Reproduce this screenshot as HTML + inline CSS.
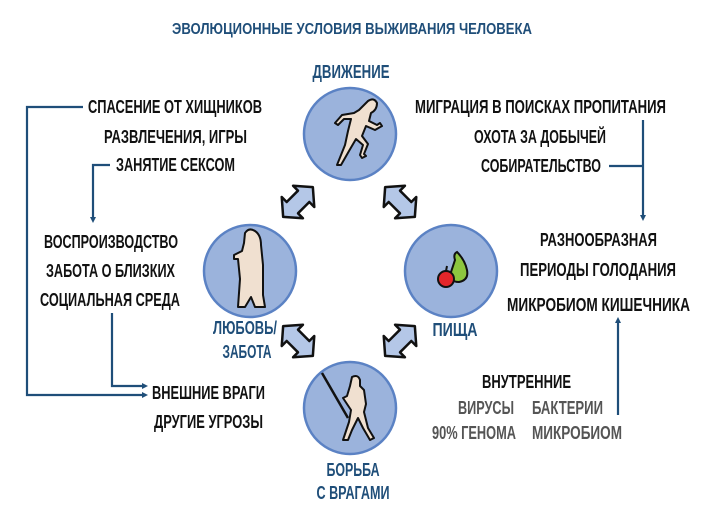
<!DOCTYPE html>
<html><head><meta charset="utf-8"><style>
html,body{margin:0;padding:0;background:#fff;}
svg{display:block;}
text{font-family:"Liberation Sans Narrow","Liberation Sans",sans-serif;font-weight:bold;}
.k{fill:#111;font-size:18px;}
.b{fill:#1f4e79;font-size:18px;}
.g{fill:#555;font-size:18px;}
.c{fill:#9bb3dc;stroke:#5b82c4;stroke-width:2.5;}
.a{fill:#b4c7e7;stroke:#111;stroke-width:2.5;stroke-linejoin:round;}
.l{fill:none;stroke:#1f4e79;stroke-width:2.2;}
.f{fill:#f0e0d0;stroke:#111;stroke-width:2;stroke-linejoin:round;}
</style></head><body>
<svg width="705" height="521" viewBox="0 0 705 521" xmlns="http://www.w3.org/2000/svg">
<defs>
<polygon id="arr" points="-21,0 -8,-15 -8,-8 8,-8 8,-15 21,0 8,15 8,8 -8,8 -8,15"/>
<marker id="m" markerUnits="userSpaceOnUse" markerWidth="8" markerHeight="8" refX="4" refY="4" orient="auto"><path d="M1,1 L7,4 L1,7 z" fill="#1f4e79"/></marker>
</defs>
<text x="352" y="34" text-anchor="middle" class="b" style="font-size:16px" textLength="360" lengthAdjust="spacingAndGlyphs">ЭВОЛЮЦИОННЫЕ УСЛОВИЯ ВЫЖИВАНИЯ ЧЕЛОВЕКА</text>
<text x="351" y="78" text-anchor="middle" class="b" textLength="77" lengthAdjust="spacingAndGlyphs">ДВИЖЕНИЕ</text>

<circle class="c" cx="350" cy="134" r="46"/>
<circle class="c" cx="250" cy="271" r="46"/>
<circle class="c" cx="451" cy="271" r="46"/>
<circle class="c" cx="350" cy="408" r="46"/>

<use href="#arr" class="a" transform="translate(298,202) rotate(-45)"/>
<use href="#arr" class="a" transform="translate(400,202) rotate(45)"/>
<use href="#arr" class="a" transform="translate(298,341) rotate(45)"/>
<use href="#arr" class="a" transform="translate(400,341) rotate(-45)"/>

<!-- runner -->
<path class="f" d="M368,101 q6,-4 9,2 q0,7 -6,10 l-2,8 l8,4 l3,-2 l2,3 l-7,4 l-9,-4 l-4,10 l6,8 l-4,10 l2,2 l-4,2 l-2,-3 l3,-10 l-7,-6 l-7,12 l-8,14 l-4,0 l8,-20 l3,-14 l3,-12 l-7,0 l-6,6 l-3,-2 l7,-8 l12,-2 l5,-3 z"/>
<!-- couple -->
<path class="f" d="M245,233 q4,-6 10,-2 q6,4 6,14 l2,20 l0,30 l2,12 l-10,0 l-4,-10 l-6,10 l-7,0 l2,-28 l-2,-20 l-4,0 l0,-4 l8,-4 l2,-8 z"/>
<!-- fruits -->
<path d="M455,260 q-2,-6 2,-8 q8,8 10,18 q2,10 -8,12 q-10,0 -8,-10 q2,-6 4,-12 z" fill="#8dc63f" stroke="#111" stroke-width="2"/>
<circle cx="446" cy="279" r="8" fill="#e3262a" stroke="#111" stroke-width="2"/>
<path d="M446,271 l1,-5" stroke="#111" stroke-width="2"/>
<!-- fighter -->
<path d="M322,373 l26,45" stroke="#111" stroke-width="2.5"/>
<path class="f" d="M352,377 q6,-3 8,3 l0,6 l4,4 l2,14 l-2,8 l4,16 l6,10 l-4,2 l-7,-12 l-5,-10 l-6,12 l-4,10 l-5,0 l6,-18 l2,-12 l-4,-6 l-4,-6 l4,-2 l3,-10 z"/>

<text x="245" y="334" text-anchor="middle" class="b" textLength="64" lengthAdjust="spacingAndGlyphs">ЛЮБОВЬ/</text>
<text x="247" y="358" text-anchor="middle" class="b" textLength="49" lengthAdjust="spacingAndGlyphs">ЗАБОТА</text>
<text x="455" y="336" text-anchor="middle" class="b" textLength="45" lengthAdjust="spacingAndGlyphs">ПИЩА</text>
<text x="353" y="476" text-anchor="middle" class="b" textLength="53" lengthAdjust="spacingAndGlyphs">БОРЬБА</text>
<text x="353" y="499" text-anchor="middle" class="b" textLength="73" lengthAdjust="spacingAndGlyphs">С ВРАГАМИ</text>

<text x="88" y="113" class="k" textLength="174" lengthAdjust="spacingAndGlyphs">СПАСЕНИЕ ОТ ХИЩНИКОВ</text>
<text x="104" y="143" class="k" textLength="143" lengthAdjust="spacingAndGlyphs">РАЗВЛЕЧЕНИЯ, ИГРЫ</text>
<text x="116" y="171" class="k" textLength="119" lengthAdjust="spacingAndGlyphs">ЗАНЯТИЕ СЕКСОМ</text>
<text x="44" y="248" class="k" textLength="134" lengthAdjust="spacingAndGlyphs">ВОСПРОИЗВОДСТВО</text>
<text x="46" y="277" class="k" textLength="129" lengthAdjust="spacingAndGlyphs">ЗАБОТА О БЛИЗКИХ</text>
<text x="40" y="306" class="k" textLength="140" lengthAdjust="spacingAndGlyphs">СОЦИАЛЬНАЯ СРЕДА</text>
<text x="152" y="399" class="k" textLength="113" lengthAdjust="spacingAndGlyphs">ВНЕШНИЕ ВРАГИ</text>
<text x="154" y="428" class="k" textLength="109" lengthAdjust="spacingAndGlyphs">ДРУГИЕ УГРОЗЫ</text>

<text x="415" y="113" class="k" textLength="251" lengthAdjust="spacingAndGlyphs">МИГРАЦИЯ В ПОИСКАХ ПРОПИТАНИЯ</text>
<text x="474" y="143" class="k" textLength="132" lengthAdjust="spacingAndGlyphs">ОХОТА ЗА ДОБЫЧЕЙ</text>
<text x="481" y="172" class="k" textLength="120" lengthAdjust="spacingAndGlyphs">СОБИРАТЕЛЬСТВО</text>
<text x="540" y="246" class="k" textLength="117" lengthAdjust="spacingAndGlyphs">РАЗНООБРАЗНАЯ</text>
<text x="520" y="276" class="k" textLength="156" lengthAdjust="spacingAndGlyphs">ПЕРИОДЫ ГОЛОДАНИЯ</text>
<text x="507" y="311" class="k" textLength="183" lengthAdjust="spacingAndGlyphs">МИКРОБИОМ КИШЕЧНИКА</text>
<text x="482" y="388" class="k" textLength="89" lengthAdjust="spacingAndGlyphs">ВНУТРЕННИЕ</text>
<text x="458" y="414" class="g" textLength="56" lengthAdjust="spacingAndGlyphs">ВИРУСЫ</text>
<text x="532" y="414" class="g" textLength="71" lengthAdjust="spacingAndGlyphs">БАКТЕРИИ</text>
<text x="432" y="439" class="g" textLength="84" lengthAdjust="spacingAndGlyphs">90% ГЕНОМА</text>
<text x="532" y="439" class="g" textLength="90" lengthAdjust="spacingAndGlyphs">МИКРОБИОМ</text>

<polyline class="l" points="83,107 27,107 27,395 145,395" marker-end="url(#m)"/>
<polyline class="l" points="110,165 93,165 93,220" marker-end="url(#m)"/>
<polyline class="l" points="112,313 112,386 145,386" marker-end="url(#m)"/>
<polyline class="l" points="643,120 643,218" marker-end="url(#m)"/>
<polyline class="l" points="609,166 643,166"/>
<polyline class="l" points="618,415 618,320" marker-end="url(#m)"/>
</svg>
</body></html>
